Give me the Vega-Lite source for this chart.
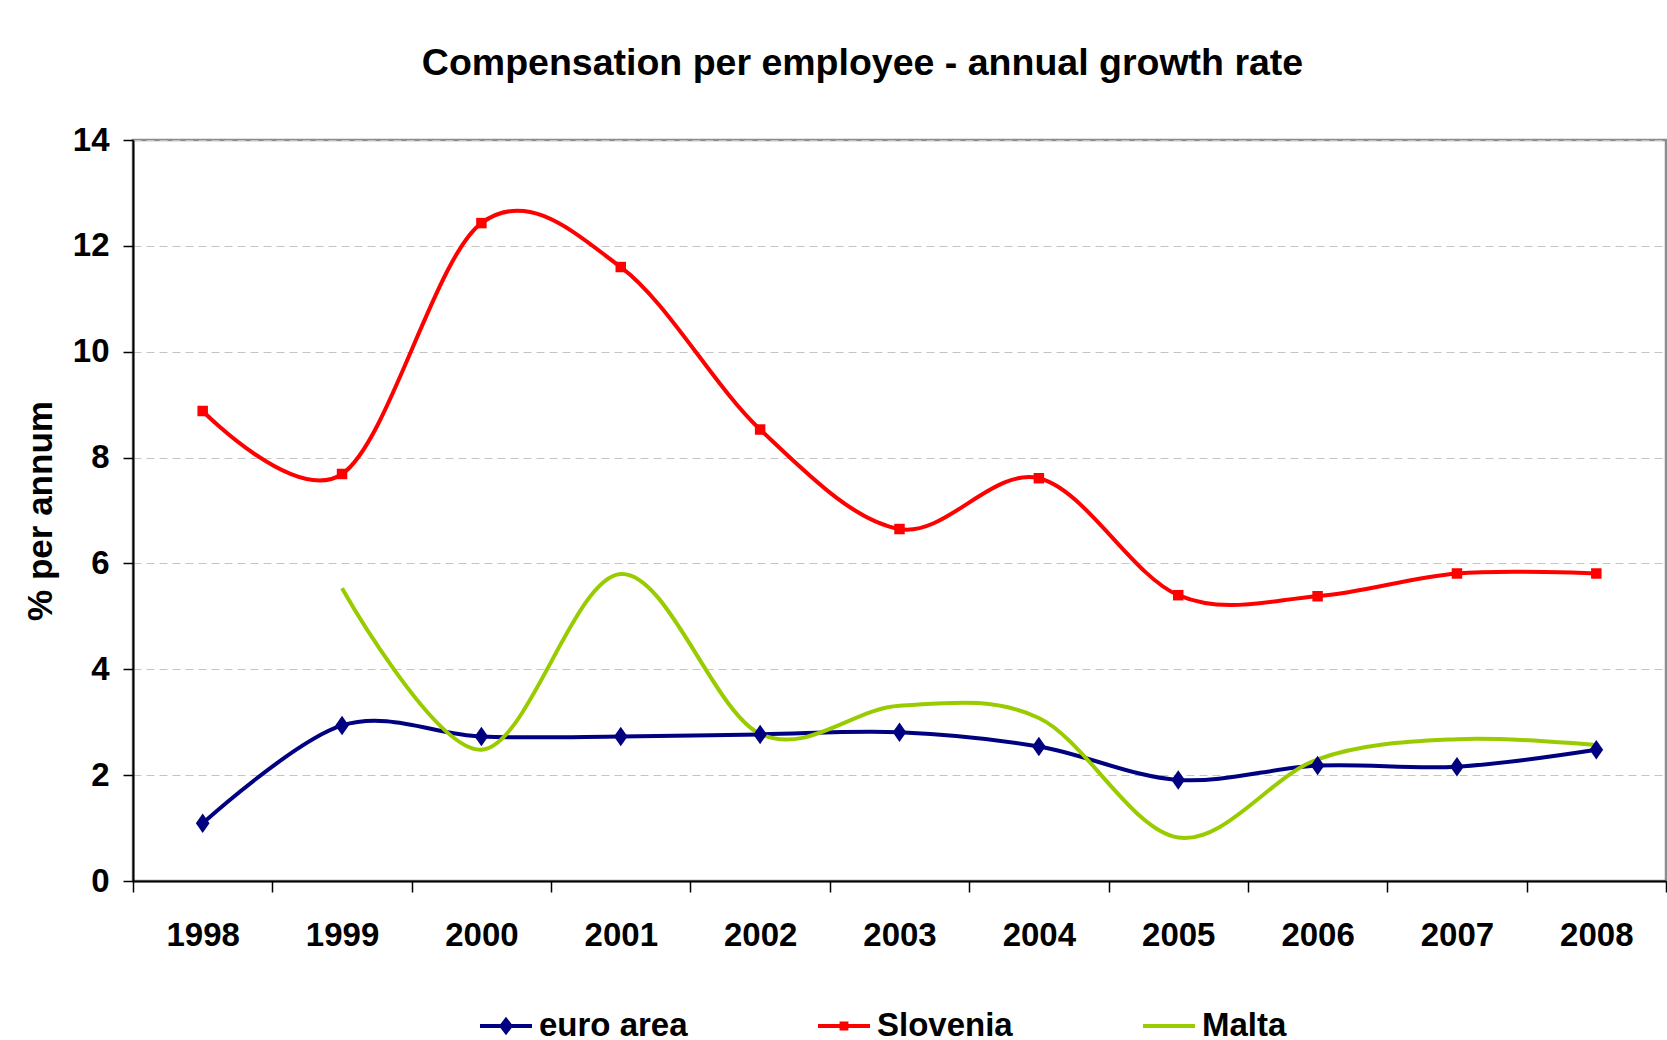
{
  "$schema": "https://vega.github.io/schema/vega-lite/v6.json",
  "autosize": {"type": "none"},
  "padding": {"left": 133, "top": 140, "right": 1, "bottom": 159},
  "width": 1533,
  "height": 741,
  "background": "white",
  "title": {
    "text": "Compensation per employee - annual growth rate",
    "font": "Liberation Sans",
    "fontWeight": "bold",
    "fontSize": 37.5,
    "color": "black",
    "anchor": "middle",
    "frame": "group",
    "dx": -37,
    "offset": 42
  },
  "config": {
    "view": {"stroke": "#8c8c8c", "strokeWidth": 2.5},
    "axis": {
      "labelFont": "Liberation Sans",
      "labelFontWeight": "bold",
      "labelFontSize": 33,
      "labelColor": "black",
      "titleFont": "Liberation Sans",
      "titleFontWeight": "bold",
      "titleColor": "black",
      "domainColor": "black",
      "domainWidth": 2,
      "tickColor": "black",
      "tickWidth": 1.5
    }
  },
  "data": {
    "values": [
      {"year": "1998", "series": "euro area", "value": 1.09},
      {"year": "1999", "series": "euro area", "value": 2.94},
      {"year": "2000", "series": "euro area", "value": 2.73},
      {"year": "2001", "series": "euro area", "value": 2.73},
      {"year": "2002", "series": "euro area", "value": 2.77},
      {"year": "2003", "series": "euro area", "value": 2.81},
      {"year": "2004", "series": "euro area", "value": 2.54},
      {"year": "2005", "series": "euro area", "value": 1.91},
      {"year": "2006", "series": "euro area", "value": 2.18},
      {"year": "2007", "series": "euro area", "value": 2.16},
      {"year": "2008", "series": "euro area", "value": 2.48},
      {"year": "1998", "series": "Slovenia", "value": 8.88},
      {"year": "1999", "series": "Slovenia", "value": 7.69},
      {"year": "2000", "series": "Slovenia", "value": 12.43},
      {"year": "2001", "series": "Slovenia", "value": 11.6},
      {"year": "2002", "series": "Slovenia", "value": 8.53},
      {"year": "2003", "series": "Slovenia", "value": 6.65},
      {"year": "2004", "series": "Slovenia", "value": 7.61},
      {"year": "2005", "series": "Slovenia", "value": 5.4},
      {"year": "2006", "series": "Slovenia", "value": 5.38},
      {"year": "2007", "series": "Slovenia", "value": 5.81},
      {"year": "2008", "series": "Slovenia", "value": 5.81},
      {"year": "1999", "series": "Malta", "value": 5.53},
      {"year": "2000", "series": "Malta", "value": 2.48},
      {"year": "2001", "series": "Malta", "value": 5.8},
      {"year": "2002", "series": "Malta", "value": 2.78},
      {"year": "2003", "series": "Malta", "value": 3.31},
      {"year": "2004", "series": "Malta", "value": 3.08},
      {"year": "2005", "series": "Malta", "value": 0.82},
      {"year": "2006", "series": "Malta", "value": 2.3},
      {"year": "2007", "series": "Malta", "value": 2.68},
      {"year": "2008", "series": "Malta", "value": 2.57}
    ]
  },
  "encoding": {
    "x": {
      "field": "year",
      "type": "ordinal",
      "bandPosition": 0.5,
      "scale": {"type": "band", "paddingInner": 0, "paddingOuter": 0, "domain": ["1998","1999","2000","2001","2002","2003","2004","2005","2006","2007","2008"]},
      "axis": {
        "title": null,
        "labelAngle": 0,
        "tickBand": "extent",
        "tickSize": 11,
        "labelPadding": 27,
        "grid": false
      }
    },
    "y": {
      "field": "value",
      "type": "quantitative",
      "scale": {"domain": [0, 14], "nice": false},
      "axis": {
        "title": "% per annum",
        "titleFontSize": 35,
        "titlePadding": 14,
        "values": [0, 2, 4, 6, 8, 10, 12, 14],
        "tickSize": 10,
        "labelPadding": 14,
        "grid": true,
        "gridColor": "#c4c4c4",
        "gridDash": [8, 5],
        "gridWidth": 1
      }
    }
  },
  "layer": [
    {
      "mark": {"type": "line", "interpolate": "cardinal", "tension": 0, "strokeWidth": 4},
      "encoding": {
        "color": {
          "field": "series",
          "type": "nominal",
          "scale": {"domain": ["euro area", "Slovenia", "Malta"], "range": ["#000080", "#ff0000", "#99cc00"]},
          "legend": {
            "orient": "none",
            "legendX": 347,
            "legendY": 860,
            "direction": "horizontal",
            "gridAlign": "none",
            "columnPadding": 130,
            "padding": 0,
            "title": null,
            "labelFont": "Liberation Sans",
            "labelFontWeight": "bold",
            "labelFontSize": 33,
            "labelColor": "black",
            "labelOffset": 7,
            "symbolSize": 2704,
            "encode": {
              "symbols": {
                "update": {
                  "shape": {"signal": "datum.value === 'euro area' ? 'M-1,-0.08H1V0.08H-1Z M0,-0.36L0.27,0L0,0.36L-0.27,0Z' : (datum.value === 'Slovenia' ? 'M-1,-0.08H1V0.08H-1Z M-0.17,-0.17H0.17V0.17H-0.17Z' : 'M-1,-0.08H1V0.08H-1Z')"},
                  "fill": {"scale": "color", "field": "value"},
                  "fillOpacity": {"value": 1},
                  "opacity": {"value": 1},
                  "strokeWidth": {"value": 0}
                }
              }
            }
          }
        }
      }
    },
    {
      "transform": [{"filter": "datum.series !== 'Malta'"}],
      "mark": {"type": "point", "filled": true, "opacity": 1},
      "encoding": {
        "color": {"field": "series", "type": "nominal", "legend": null},
        "shape": {
          "field": "series",
          "type": "nominal",
          "scale": {"domain": ["euro area", "Slovenia"], "range": ["M0,-1L0.7,0L0,1L-0.7,0Z", "square"]},
          "legend": null
        },
        "size": {
          "field": "series",
          "type": "nominal",
          "scale": {"domain": ["euro area", "Slovenia"], "range": [380, 110]},
          "legend": null
        }
      }
    }
  ]
}
